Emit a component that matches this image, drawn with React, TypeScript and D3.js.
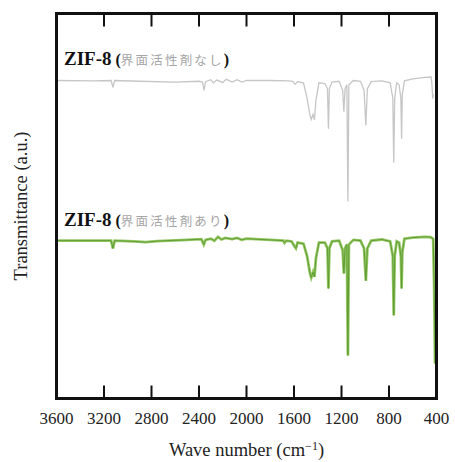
import * as d3 from 'd3';

// wave number (cm-1), transmittance (a.u.)
const withoutSurfactant: [number, number][] = [
  [3600, 82.6], [3300, 82.5], [3140, 82.6], [3125, 80.8], [3110, 82.6],
  [2900, 82.4], [2600, 82.2], [2400, 82.4], [2370, 82.2], [2357, 80.0],
  [2345, 82.3], [2300, 82.8], [2280, 82.0], [2250, 82.7], [2200, 82.1],
  [2170, 82.9], [2120, 82.2], [2080, 82.8], [2040, 82.2], [2000, 82.6],
  [1800, 82.6], [1650, 82.5], [1610, 82.4], [1590, 81.6], [1570, 82.3],
  [1520, 82.0], [1490, 78.0], [1465, 73.5], [1455, 72.5], [1440, 73.8],
  [1428, 72.4], [1415, 77.5], [1390, 82.0], [1340, 81.8], [1318, 80.5],
  [1310, 70.1], [1302, 80.5], [1280, 82.2], [1220, 82.4], [1190, 80.0],
  [1180, 74.5], [1170, 80.5], [1155, 81.5], [1146, 51.2], [1138, 81.5],
  [1100, 82.6], [1040, 82.4], [1010, 80.0], [995, 70.9], [982, 80.5],
  [950, 82.3], [860, 82.5], [790, 82.0], [768, 78.0], [760, 61.3],
  [752, 78.0], [735, 82.0], [715, 81.5], [700, 78.0], [694, 67.5],
  [688, 79.0], [670, 82.5], [600, 83.0], [500, 83.4], [445, 83.5],
  [438, 81.5], [432, 77.9], [426, 79.0],
];

const withSurfactant: [number, number][] = [
  [3600, 41.0], [3300, 41.0], [3140, 41.0], [3125, 39.0], [3110, 41.0],
  [2950, 40.8], [2850, 40.6], [2750, 40.9], [2500, 41.2], [2380, 41.4],
  [2360, 40.0], [2345, 41.2], [2300, 41.5], [2270, 41.0], [2240, 42.0],
  [2210, 41.3], [2180, 41.7], [2120, 41.4], [2080, 41.7], [2040, 41.2],
  [2000, 41.5], [1800, 41.2], [1690, 41.0], [1680, 40.4], [1665, 41.0],
  [1620, 40.8], [1595, 39.5], [1584, 39.0], [1570, 40.5], [1520, 40.2],
  [1490, 37.0], [1465, 32.5], [1455, 31.4], [1440, 32.8], [1428, 31.6],
  [1415, 36.5], [1390, 40.5], [1340, 40.5], [1318, 39.0], [1310, 28.6],
  [1302, 39.0], [1280, 40.8], [1220, 41.0], [1190, 38.5], [1180, 32.5],
  [1170, 39.0], [1155, 40.0], [1146, 11.2], [1138, 40.0], [1100, 41.2],
  [1040, 41.0], [1010, 39.0], [995, 30.6], [982, 39.0], [950, 41.0],
  [860, 41.3], [790, 40.8], [768, 37.0], [760, 21.6], [752, 37.0],
  [735, 40.8], [715, 40.5], [700, 37.0], [694, 28.6], [688, 38.0],
  [670, 41.5], [600, 41.8], [500, 42.0], [450, 41.9], [428, 41.5],
  [420, 30.0], [412, 9.1],
];

const xTicks = [3600, 3200, 2800, 2400, 2000, 1600, 1200, 800, 400];
const seriesLabels = ['界面活性剤なし', '界面活性剤あり'];
const labelLevels = [86.5, 44.9];

const W = 455;
const H = 462;
const margin = { top: 13.5, right: 18.5, bottom: 63.5, left: 56.5 };
const tickLen = 13;

export default function App() {
  const x = d3
    .scaleLinear()
    .domain([3600, 400])
    .range([margin.left, W - margin.right]);
  const y = d3
    .scaleLinear()
    .domain([0, 100])
    .range([H - margin.bottom, margin.top]);

  const spectrum = d3
    .line<[number, number]>()
    .x((d) => x(d[0]))
    .y((d) => y(d[1]));

  const inner = xTicks.slice(1, -1);
  const plotTop = margin.top;
  const plotBottom = H - margin.bottom;
  const serif = '"Liberation Serif", "DejaVu Serif", serif';

  return (
    <svg
      width={W}
      height={H}
      style={{ position: 'absolute', left: 0, top: 0, background: '#fff' }}
    >
      <path d={spectrum(withoutSurfactant) ?? ''} fill="none" stroke="#c6c6c6" strokeWidth={1.3} />
      <path d={spectrum(withSurfactant) ?? ''} fill="none" stroke="#96c864" strokeWidth={2.8} />
      <path d={spectrum(withSurfactant) ?? ''} fill="none" stroke="#5f9d33" strokeWidth={1} />

      {seriesLabels.map((lab, i) => (
        <text key={lab} x={64} y={y(labelLevels[i])} fontFamily={serif}>
          <tspan fontSize={19} fontWeight="bold" fill="#111">
            ZIF-8
          </tspan>
          <tspan fontSize={16} fontWeight="bold" fill="#111" dx={4}>
            (
          </tspan>
          <tspan
            fontSize={12.5}
            fill="#a5a5a5"
            letterSpacing={2.2}
            fontFamily='"Noto Sans CJK JP", sans-serif'
          >
            {lab}
          </tspan>
          <tspan fontSize={16} fontWeight="bold" fill="#111">
            )
          </tspan>
        </text>
      ))}

      <rect
        x={margin.left}
        y={margin.top}
        width={W - margin.left - margin.right}
        height={H - margin.top - margin.bottom}
        fill="none"
        stroke="#111"
        strokeWidth={3}
      />
      {/* inward ticks as thin filled bars */}
      {inner.map((t) => (
        <rect key={'t' + t} x={x(t) - 1} y={plotTop} width={2} height={tickLen} fill="#111" />
      ))}
      {inner.map((t) => (
        <rect key={'b' + t} x={x(t) - 1} y={plotBottom - tickLen} width={2} height={tickLen} fill="#111" />
      ))}
      {xTicks.map((t) => (
        <text
          key={t}
          x={x(t)}
          y={424}
          textAnchor="middle"
          fontFamily={serif}
          fontSize={17}
          fill="#222"
        >
          {t}
        </text>
      ))}
      <text
        x={(margin.left + W - margin.right) / 2}
        y={456}
        textAnchor="middle"
        fontFamily={serif}
        fontSize={18.5}
        fill="#222"
      >
        Wave number (cm
        <tspan fontSize={12} dy={-6}>
          −1
        </tspan>
        <tspan dy={6}>)</tspan>
      </text>
      <text
        transform={`translate(27, ${(margin.top + H - margin.bottom) / 2}) rotate(-90)`}
        textAnchor="middle"
        fontFamily={serif}
        fontSize={18.5}
        fill="#222"
      >
        Transmittance (a.u.)
      </text>
    </svg>
  );
}
